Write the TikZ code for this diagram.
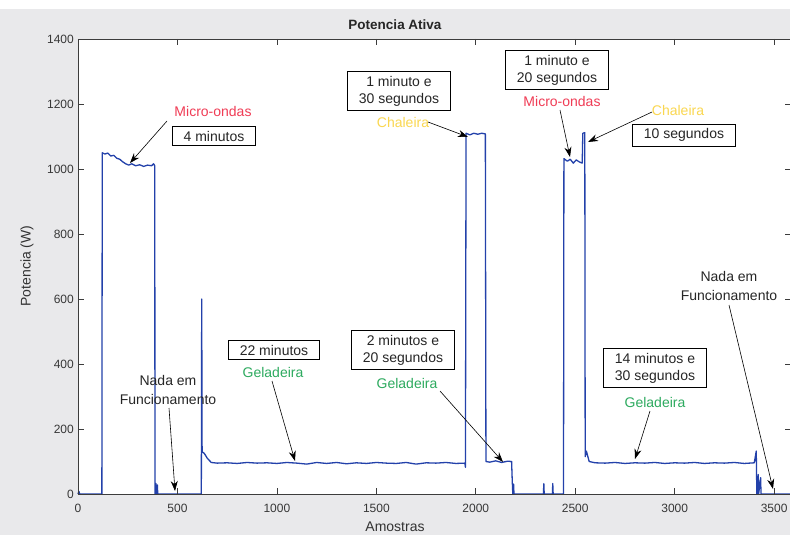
\documentclass[tikz,border=0pt]{standalone}
\usepackage{fontspec}
\setmainfont{Liberation Sans}
\usetikzlibrary{arrows.meta}
\definecolor{figbg}{RGB}{233,233,235}
\definecolor{trace}{RGB}{35,65,170}
\definecolor{lblred}{RGB}{240,60,85}
\definecolor{lblgreen}{RGB}{45,170,95}
\definecolor{lblyellow}{RGB}{250,215,80}
\definecolor{ticktxt}{RGB}{55,55,55}
\definecolor{axiscol}{RGB}{60,60,60}
\tikzset{
  boxlbl/.style={draw=black, line width=0.9pt, fill=white, align=center, inner xsep=11pt, inner ysep=4.5pt, font=\fontsize{14}{17}\selectfont, text=black!85},
  clbl/.style={font=\fontsize{14}{17}\selectfont, inner sep=1pt},
  plainlbl/.style={font=\fontsize{14}{19}\selectfont, align=center, text=black!85, inner sep=1pt},
  ticklbl/.style={font=\fontsize{12}{14}\selectfont, text=ticktxt, inner sep=1pt},
  pointer/.style={draw=black, line width=0.6pt, -{Stealth[length=10pt,width=7pt]}},
  tracestyle/.style={draw=trace, line width=1.3pt, line join=round}
}
\begin{document}
\begin{tikzpicture}[x=1pt,y=-1pt]
\useasboundingbox (0,0) rectangle (790,535);
\fill[figbg] (0,0) rectangle (790,535);
\fill[white] (0,0) rectangle (790,9);
\fill[white] (78,39) rectangle (792,494);

% data trace
\begin{scope}[shift={(78pt,-494pt)}, x=0.1989pt, y=0.325pt]
\draw[tracestyle] plot coordinates {
(0,0) (5,8) (8,0) (120,0) (122,1050) (135,1046) (150,1049) (165,1040) (180,1042) (195,1033) (210,1030) (225,1022) (240,1016) (255,1012) (270,1016) (290,1010) (310,1013) (330,1008) (350,1012) (370,1010) (380,1016) (386,1010) (387,0) (391,0) (392,32) (394,0) (399,28) (401,0)
(620,0) (622,600) (624,130) (635,125) (650,110) (670,97) (700,95) (750,96) (800,94) (850,97) (900,95) (950,96) (1000,94) (1050,97) (1100,95) (1150,92) (1200,97) (1250,94) (1300,97) (1350,93) (1400,96) (1450,94) (1500,97) (1550,95) (1600,94) (1650,97) (1700,92) (1750,96) (1800,95) (1850,97) (1900,94) (1945,95) (1948,82) (1951,1110) (1970,1105) (1990,1110) (2010,1107) (2030,1110) (2048,1108) (2051,100) (2070,98) (2100,102) (2130,97) (2160,101) (2180,100) (2183,45) (2186,0) (2190,30) (2192,0)
(2340,0) (2342,32) (2344,0) (2385,0) (2387,32) (2389,0) (2441,0) (2443,1032) (2460,1024) (2475,1030) (2490,1018) (2505,1028) (2520,1022) (2535,1018) (2538,1110) (2548,1112) (2550,115) (2556,132) (2570,100) (2600,96) (2650,95) (2700,97) (2750,94) (2800,96) (2850,95) (2900,97) (2950,94) (3000,96) (3050,95) (3100,97) (3150,94) (3200,96) (3250,95) (3300,97) (3350,94) (3400,96) (3410,132) (3413,0) (3420,60) (3422,0) (3432,50) (3434,0) (3600,0)
};
\end{scope}

% axes frame and ticks
\draw[axiscol, line width=0.9pt] (78,39) rectangle (791,494);
\foreach \s in {0,500,...,3500}{
  \pgfmathsetmacro{\px}{78+0.1989*\s}
  \draw[axiscol, line width=0.8pt] (\px,494) -- (\px,488);
  \draw[axiscol, line width=0.8pt] (\px,39) -- (\px,45);
  \node[ticklbl] (xt\s) at (\px,508) {\s};
}
\foreach \w in {0,200,...,1400}{
  \pgfmathsetmacro{\py}{494-0.325*\w}
  \draw[axiscol, line width=0.8pt] (78,\py) -- (84,\py);
  \draw[axiscol, line width=0.8pt] (791,\py) -- (785,\py);
  \node[ticklbl, anchor=east] (yt\w) at (75,\py) {\w};
}
\node[font=\bfseries\fontsize{13.5}{15}\selectfont, text=black!85] (title) at (395,25) {Potencia Ativa};
\node[font=\fontsize{14}{16}\selectfont, text=black!80] (xlab) at (395,527) {Amostras};
\node[font=\fontsize{14}{16}\selectfont, text=black!80, rotate=90] (ylab) at (27,266) {Potencia (W)};

% annotations
\node[clbl, text=lblred] (mo1) at (213,111) {Micro-ondas};
\node[boxlbl] (b4) at (214,136) {4 minutos};
\coordinate (a1s) at (167,121); \coordinate (a1e) at (130,163);
\draw[pointer] (a1s) -- (a1e);

\node[boxlbl] (b130) at (399,91) {1 minuto e\\30 segundos};
\node[clbl, text=lblyellow] (ch1) at (403,122) {Chaleira};
\coordinate (a2s) at (428,122); \coordinate (a2e) at (468,137);
\draw[pointer] (a2s) -- (a2e);

\node[boxlbl] (b120) at (557,70) {1 minuto e\\20 segundos};
\node[clbl, text=lblred] (mo2) at (562,101) {Micro-ondas};
\coordinate (a3s) at (560,110); \coordinate (a3e) at (570,157);
\draw[pointer] (a3s) -- (a3e);

\node[clbl, text=lblyellow] (ch2) at (678,110) {Chaleira};
\node[boxlbl] (b10) at (684,135) {10 segundos};
\coordinate (a4s) at (652,112); \coordinate (a4e) at (588,142);
\draw[pointer] (a4s) -- (a4e);

\node[plainlbl] (nada1) at (168,390) {Nada em\\Funcionamento};
\coordinate (a5s) at (169,408); \coordinate (a5e) at (175,491);
\draw[pointer] (a5s) -- (a5e);

\node[boxlbl] (b22) at (274,350) {22 minutos};
\node[clbl, text=lblgreen] (gel1) at (273,372) {Geladeira};
\coordinate (a6s) at (272,381); \coordinate (a6e) at (295,461);
\draw[pointer] (a6s) -- (a6e);

\node[boxlbl] (b220) at (403,350) {2 minutos e\\20 segundos};
\node[clbl, text=lblgreen] (gel2) at (407,383) {Geladeira};
\coordinate (a7s) at (440,391); \coordinate (a7e) at (503,462);
\draw[pointer] (a7s) -- (a7e);

\node[boxlbl] (b1430) at (655,368) {14 minutos e\\30 segundos};
\node[clbl, text=lblgreen] (gel3) at (655,402) {Geladeira};
\coordinate (a8s) at (650,411); \coordinate (a8e) at (635,459);
\draw[pointer] (a8s) -- (a8e);

\node[plainlbl] (nada2) at (729,286) {Nada em\\Funcionamento};
\coordinate (a9s) at (729,305); \coordinate (a9e) at (773,489);
\draw[pointer] (a9s) -- (a9e);
\end{tikzpicture}
\end{document}
